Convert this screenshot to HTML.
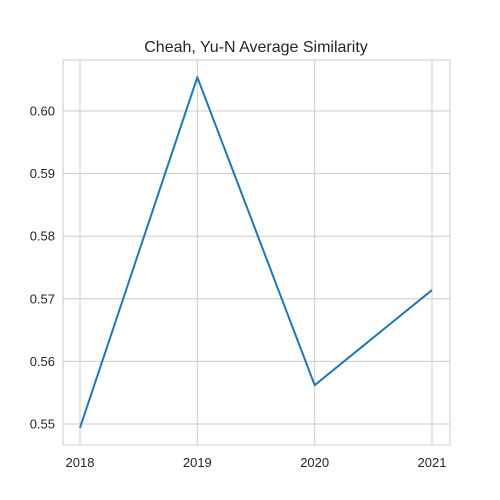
<!DOCTYPE html>
<html><head><meta charset="utf-8">
<style>
html,body{margin:0;padding:0;background:#fff;}
svg{display:block;font-family:"Liberation Sans","DejaVu Sans",sans-serif;}
</style></head>
<body>
<svg id="chart" width="500" height="500">
<rect x="0" y="0" width="500" height="500" fill="#fff"/>
<text x="256" y="52" text-anchor="middle" font-size="16" fill="#262626">Cheah, Yu-N Average Similarity</text>
<g id="grid"></g>
<rect x="63" y="60" width="387" height="385" fill="none" stroke="#ccc" stroke-width="1"/>
<g id="ticks"></g>
<path id="line" fill="none" stroke="#1f77b4" stroke-width="2" stroke-linejoin="round"/>
</svg>
<script>
const years = [2018, 2019, 2020, 2021];
const values = [0.5494, 0.6054, 0.5562, 0.5714];
const yTicks = [0.55, 0.56, 0.57, 0.58, 0.59, 0.60];
const yTickLabels = ["0.55", "0.56", "0.57", "0.58", "0.59", "0.60"];

function xScale(v){ return 80 + (v - 2018) * (432 - 80) / 3; }
function yScale(v){ return 424 - (v - 0.55) * (424 - 111) / 0.05; }

const ns = "http://www.w3.org/2000/svg";
const grid = document.getElementById("grid");
const ticks = document.getElementById("ticks");

years.forEach(function(yr){
  const x = xScale(yr);
  const l = document.createElementNS(ns, "line");
  l.setAttribute("x1", x); l.setAttribute("x2", x);
  l.setAttribute("y1", 60); l.setAttribute("y2", 445);
  l.setAttribute("stroke", "#ccc"); l.setAttribute("stroke-width", "1");
  
  
  grid.appendChild(l);
  const t = document.createElementNS(ns, "text");
  t.setAttribute("x", x); t.setAttribute("y", 467);
  t.setAttribute("text-anchor", "middle"); t.setAttribute("font-size", "13");
  t.setAttribute("fill", "#262626");
  t.textContent = yr;
  
  
  ticks.appendChild(t);
});

yTicks.forEach(function(v, i){
  const y = yScale(v);
  const l = document.createElementNS(ns, "line");
  l.setAttribute("x1", 63); l.setAttribute("x2", 450);
  l.setAttribute("y1", y); l.setAttribute("y2", y);
  l.setAttribute("stroke", "#ccc"); l.setAttribute("stroke-width", "1");
  
  
  grid.appendChild(l);
  const t = document.createElementNS(ns, "text");
  t.setAttribute("x", 55); t.setAttribute("y", y + 4.5);
  t.setAttribute("text-anchor", "end"); t.setAttribute("font-size", "13");
  t.setAttribute("fill", "#262626");
  t.textContent = yTickLabels[i];
  
  
  ticks.appendChild(t);
});

document.getElementById("line").setAttribute("d",
  years.map(function(yr, i){ return (i ? "L" : "M") + xScale(yr) + "," + yScale(values[i]); }).join(" "));
</script>
</body></html>
